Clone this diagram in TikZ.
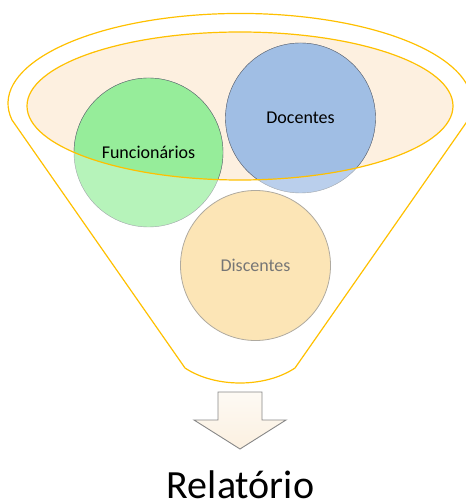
\documentclass[tikz,border=0pt]{standalone}
\usepackage{fontspec}
\setmainfont{Carlito}
\definecolor{funnelgold}{RGB}{255,192,0}
\definecolor{rimfill}{RGB}{253,240,224}
\definecolor{funcin}{RGB}{150,237,154}
\definecolor{funcout}{RGB}{182,243,186}
\definecolor{docin}{RGB}{160,190,228}
\definecolor{docout}{RGB}{186,207,236}
\definecolor{discfill}{RGB}{252,229,182}
\definecolor{discline}{RGB}{175,170,160}
\definecolor{disctext}{RGB}{118,118,118}
\definecolor{linein}{RGB}{95,100,110}
\definecolor{lineout}{RGB}{160,165,170}
\definecolor{arrowline}{RGB}{135,135,135}
\definecolor{arrowtop}{RGB}{253,250,244}
\definecolor{arrowfill}{RGB}{252,240,224}
\usetikzlibrary{backgrounds}

\begin{document}
\begin{tikzpicture}[x=1pt,y=-1pt,
    funnel/.style={draw=funnelgold, line width=1.2pt},
    bubble/.style={circle, minimum size=150pt, inner sep=0pt, font=\fontsize{18}{22}\selectfont}]
  \useasboundingbox (0,0) rectangle (465,502);
  % circles
  \node[bubble] (funcionarios) at (148.5,152.5) {Funcionários};
  \node[bubble] (docentes) at (300.5,118) {Docentes};
  \node[bubble, fill=discfill, draw=discline, line width=0.8pt, text=disctext] (discentes) at (255.5,265.5) {Discentes};
  \begin{scope}[on background layer, line width=0.8pt]
    \draw[funnel] (12,120) arc[start angle=169.4, end angle=370.6, x radius=232, y radius=90]
      -- (295,368) .. controls (265,388) and (215,388) .. (185,368) -- cycle;
    \fill[rimfill] (240,106) ellipse (213 and 74);
    \draw[fill=funcout, draw=lineout] (funcionarios.center) circle (74.5);
    \draw[fill=docout, draw=lineout] (docentes.center) circle (75);
    \clip (240,106) ellipse (213 and 74);
    \draw[fill=funcin, draw=linein] (funcionarios.center) circle (74.5);
    \draw[fill=docin, draw=linein] (docentes.center) circle (75);
  \end{scope}
  \draw[funnel] (240,106) ellipse (213 and 74);
  % arrow
  \draw[draw=arrowline, line width=0.9pt, top color=arrowtop, bottom color=arrowfill]
    (218,392) -- (262,392) -- (262,420) -- (286,420) -- (240,449) -- (194,420) -- (218,420) -- cycle;
  \node[anchor=base, inner sep=0pt, font=\fontsize{40}{48}\selectfont] (relatorio) at (240.5,498.5) {Relatório};
\end{tikzpicture}
\end{document}
